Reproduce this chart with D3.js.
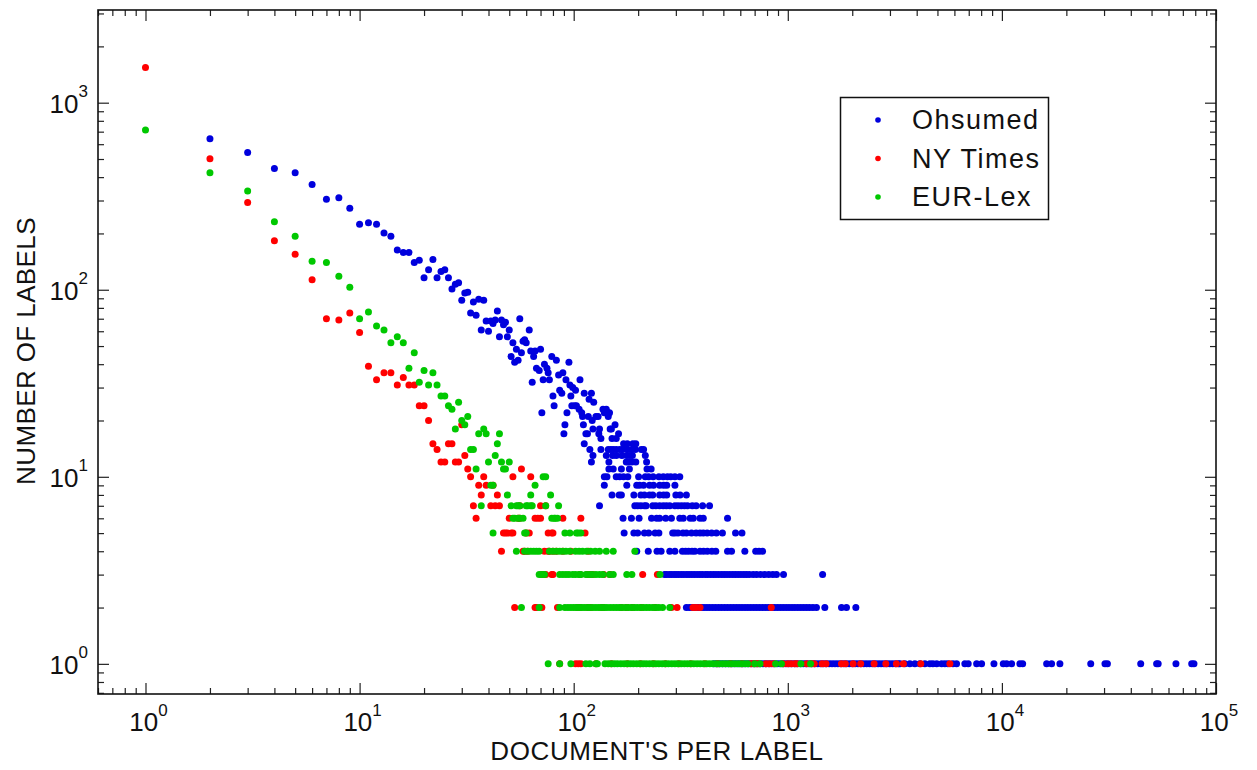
<!DOCTYPE html>
<html>
<head>
<meta charset="utf-8">
<script src="https://cdn.jsdelivr.net/npm/d3@7"></script>
<style>
  body { margin: 0; background: #fff; }
  svg { display: block; }
  text { font-family: Arial, "Liberation Sans", sans-serif; fill: #111; }
</style>
</head>
<body>
<svg width="1257" height="770"></svg>
<script>
// series names, legend order
const seriesNames = ["Ohsumed", "NY Times", "EUR-Lex"];
const seriesColors = ["#0000dd", "#ff0000", "#00c800"];

// [documents per label, number of labels] for the scattered upper part
const ohsumedHead = [[2,641],[3,542],[4,445],[5,422],[6,365],[7,305],[8,310],[9,273],[10,224],[11,228],[12,224],[13,201],[14,193],[15,163],[16,158],[17,158],[18,140],[19,144],[20,116],[21,128],[22,145],[23,116],[24,125],[25,128],[26,116],[27,101],[28,107],[29,109],[30,88],[31,96],[32,97],[33,75],[34,86],[35,73],[36,89],[37,61],[38,88],[39,68],[40,60],[41,68],[42,66],[43,69],[44,77],[45,56],[46,69],[47,65],[48,67],[49,56],[50,61],[51,44],[52,52],[53,41],[54,48],[55,42],[56,70],[57,46],[58,53],[59,54],[60,52],[62,61],[63,47],[64,32],[65,44],[66,47],[67,38],[69,37],[70,48],[71,22],[72,33],[73,40],[75,38],[76,36],[77,33],[79,44],[80,27],[81,24],[83,42],[85,35],[86,29],[88,28],[89,36],[90,17],[91,19],[92,33],[93,22],[95,41],[96,31],[97,27],[98,24],[99,30],[101,24],[102,29],[103,24],[106,23],[107,33],[109,22],[110,21],[111,19],[112,28],[114,17],[116,17],[117,21],[118,26],[121,28],[122,20],[123,18],[124,25],[127,21],[130,21],[131,17],[132,18],[134,16],[137,23],[139,22],[142,23],[145,21],[147,22],[148,18],[150,18],[151,16],[156,19],[158,16],[162,17]];
const nytimesHead = [[1,1540],[2,501],[3,293],[4,183],[5,155],[6,113],[7,70],[8,69],[9,75],[10,59],[11,39],[12,33],[13,36],[14,36],[15,31],[16,34],[17,31],[18,31],[19,24],[20,24],[21,20],[30,19]];
const eurlexHead = [[1,714],[2,422],[3,337],[4,231],[5,193],[6,142],[7,140],[8,118],[9,103],[10,70],[11,76],[12,64],[13,61],[14,52],[15,56],[16,52],[17,38],[18,46],[19,32],[20,37],[21,31],[22,36],[23,31],[24,27],[25,27],[26,24],[27,23],[28,18],[29,25],[30,20],[31,19],[32,21],[36,17],[38,18],[39,17],[45,17]];

// [number of labels, documents per label values] for the low-count rows
const ohsumedRows = [
  [15, [112,171,178,189,195]],
  [14, [119,134,145,149,153,158,164,169,178,187,194,207,212]],
  [13, [123,142,152,158,168,177,183,188,216]],
  [12, [121,146,176,180,187,195,219]],
  [11, [146,153,167,182,220,230]],
  [10, [139,143,158,164,171,179,201,216,224,235,250,262,274,284,297,313]],
  [9, [139,177,197,203,212,226,236,252,263,272,297]],
  [8, [151,163,167,191,206,214,226,234,252,263,272,300,314,336]],
  [7, [132,193,199,206,214,218,234,242,252,262,271,281,297,307,318,329,340,358,373,400,431]],
  [6, [170,186,202,231,244,252,269,286,313,325,350,362,389,403,523]],
  [5, [172,191,199,214,224,240,250,290,297,307,324,336,355,373,389,403,420,441,464,495,570,611]],
  [4, [197,223,245,256,281,297,322,333,344,357,368,389,404,421,442,461,523,546,630,708,734,762]],
  [3, [266,271,279,286,294,301,309,318,327,337,346,356,366,377,388,399,412,423,436,449,462,476,491,505,520,536,553,569,586,604,623,641,661,689,715,747,780,815,851,885,955,1454]],
  [2, [336,347,358,369,381,394,406,419,432,446,460,475,490,506,522,539,556,574,592,611,631,651,672,694,716,739,763,787,812,838,865,893,922,951,982,1013,1046,1079,1114,1150,1187,1225,1264,1310,1361,1489,1782,1880,2079]],
  [1, [452,466,480,495,511,527,544,561,579,597,616,635,655,676,697,719,742,765,789,814,840,866,893,921,950,980,1011,1043,1076,1110,1145,1181,1218,1256,1296,1337,1379,1422,1467,1513,1561,1610,1661,1713,1767,1823,1880,1939,2000,2063,2128,2195,2264,2335,2409,2485,2563,2644,2727,2813,2902,2993,3088,3185,3285,3340,3520,3715,3921,4138,4368,4610,4760,4960,5230,5415,5595,5906,6140,6714,6960,7620,8040,9180,10150,10520,11100,12130,12500,16180,17070,18660,26000,30300,31100,44500,52800,53700,65000,77000,78900]]
];
const nytimesRows = [
  [15, [22,26,27]],
  [14, [23]],
  [13, [31]],
  [12, [24,25,28,29]],
  [11, [32,57]],
  [10, [33,38,52,63]],
  [9, [36,39,42]],
  [8, [37,44]],
  [7, [34,41,43,45,56,70,74]],
  [6, [35,50,55,56,66,68,70,89,108]],
  [5, [47,48,49,51,52,60,62,76,79,80,113]],
  [4, [46,58,59,61,73,76,77,80,83,89,97,117]],
  [3, [71,72,74,79,80,107,116,120,123,138,148,210,246]],
  [2, [53,66,67,71,84,104,107,116,120,135,137,167,177,188,207,240,286,304,361,373,389,837]],
  [1, [86,102,105,108,127,150,178,205,236,268,310,352,410,470,540,610,670,690,711,727,791,822,859,953,1000,1036,1080,1103,1225,1290,1330,1446,1508,1780,1856,2019,2190,2530,2870,3215,3467,4180,5715]]
];
const eurlexRows = [
  [15, [44]],
  [14, [33,34]],
  [13, [43]],
  [12, [40,46,50]],
  [11, [35,47,48]],
  [10, [72,74]],
  [9, [41,42,66]],
  [8, [49,63,78]],
  [7, [37,51,54,55,56,60,61,63,64,74,85]],
  [6, [52,53,55,56,58,79,81,82,84]],
  [5, [42,59,60,91,96,103,105,108]],
  [4, [54,59,61,63,65,67,69,77,80,83,86,89,92,96,102,106,110,115,120,126,132,142,153,193]],
  [3, [69,71,73,86,89,92,95,99,102,106,108,114,118,122,127,132,137,147,153,177,187,253]],
  [2, [57,69,86,91,94,97,100,103,106,109,112,116,119,123,127,131,135,139,143,148,153,158,163,168,174,180,186,192,198,205,212,219,226,234,242,250,260,281]],
  [1, [76,86,97,114,119,127,129,140,145,150,155,160,166,172,178,184,190,197,204,211,218,226,234,242,250,259,268,277,287,297,307,318,329,340,352,364,377,390,404,418,432,447,463,479,496,513,531,549,568,588,608,629,650,700,742,877,934,1151,1277]]
];

const svg = d3.select("svg");

const plotLeft = 98, plotRight = 1216, plotTop = 10, plotBottom = 694;

const x = d3.scaleLog().domain([0.6, 1e5]).range([plotLeft, plotRight]);
const y = d3.scaleLog().domain([0.69, 3130]).range([plotBottom, plotTop]);

// flatten head + rows into points
function expand(head, rows) {
  const pts = head.map(([d, n]) => ({ d, n }));
  rows.forEach(([n, ds]) => ds.forEach(d => pts.push({ d, n })));
  return pts;
}
const series = [
  expand(ohsumedHead, ohsumedRows),
  expand(nytimesHead, nytimesRows),
  expand(eurlexHead, eurlexRows)
];

// points, drawn blue then red then green
series.forEach((pts, i) => {
  svg.append("g")
    .selectAll("circle")
    .data(pts)
    .enter()
    .append("circle")
    .attr("cx", d => x(d.d))
    .attr("cy", d => y(d.n))
    .attr("r", 3.5)
    .attr("fill", seriesColors[i]);
});

// ticks: major at powers of ten, minor for the rest
const isMajor = v => Math.abs(Math.log10(v) - Math.round(Math.log10(v))) < 1e-9;
const xTicks = x.ticks();
const yTicks = y.ticks();
const xMajor = xTicks.filter(isMajor), xMinor = xTicks.filter(v => !isMajor(v));
const yMajor = yTicks.filter(isMajor), yMinor = yTicks.filter(v => !isMajor(v));

function tickAxis(axisFn, scale, values, size, transform) {
  const g = svg.append("g")
    .attr("transform", transform)
    .attr("color", "#222")
    .call(axisFn(scale).tickValues(values).tickSize(-size).tickFormat(""));
  g.select(".domain").remove();
  g.selectAll("line").attr("stroke-width", 1.2);
}
[[xMinor, 6], [xMajor, 11]].forEach(([vals, s]) => {
  tickAxis(d3.axisBottom, x, vals, s, `translate(0,${plotBottom})`);
  tickAxis(d3.axisTop, x, vals, s, `translate(0,${plotTop})`);
});
[[yMinor, 6], [yMajor, 11]].forEach(([vals, s]) => {
  tickAxis(d3.axisLeft, y, vals, s, `translate(${plotLeft},0)`);
  tickAxis(d3.axisRight, y, vals, s, `translate(${plotRight},0)`);
});

// frame
svg.append("rect")
  .attr("x", plotLeft).attr("y", plotTop)
  .attr("width", plotRight - plotLeft).attr("height", plotBottom - plotTop)
  .attr("fill", "none").attr("stroke", "#111").attr("stroke-width", 1.6);

// tick labels as 10 with superscript exponent
const xl = svg.append("g").selectAll("text").data(xMajor).enter().append("text")
  .attr("x", d => x(d) + 3).attr("y", 731)
  .attr("text-anchor", "middle").attr("font-size", 26);
xl.append("tspan").text("10");
xl.append("tspan").attr("dy", -15).attr("font-size", 17).text(d => Math.round(Math.log10(d)));

const yl = svg.append("g").selectAll("text").data(yMajor).enter().append("text")
  .attr("x", 88).attr("y", d => y(d) + 10)
  .attr("text-anchor", "end").attr("font-size", 26);
yl.append("tspan").text("10");
yl.append("tspan").attr("dy", -16).attr("font-size", 17).text(d => Math.round(Math.log10(d)));

// axis titles
svg.append("text")
  .attr("x", 657).attr("y", 760)
  .attr("text-anchor", "middle").attr("font-size", 26).attr("letter-spacing", 0.6)
  .text("DOCUMENT'S PER LABEL");
svg.append("text")
  .attr("transform", "translate(35,351) rotate(-90)")
  .attr("text-anchor", "middle").attr("font-size", 26).attr("letter-spacing", 0.4)
  .text("NUMBER OF LABELS");

// legend
const legend = svg.append("g");
legend.append("rect")
  .attr("x", 840.5).attr("y", 97.5).attr("width", 208).attr("height", 122)
  .attr("fill", "#fff").attr("stroke", "#111").attr("stroke-width", 1.5);
seriesNames.forEach((name, i) => {
  const ly = 120 + i * 38.5;
  legend.append("circle").attr("cx", 878).attr("cy", ly).attr("r", 2.8).attr("fill", seriesColors[i]);
  legend.append("text").attr("x", 912).attr("y", ly + 9)
    .attr("font-size", 27).attr("letter-spacing", 1.5).text(name);
});
</script>
</body>
</html>
